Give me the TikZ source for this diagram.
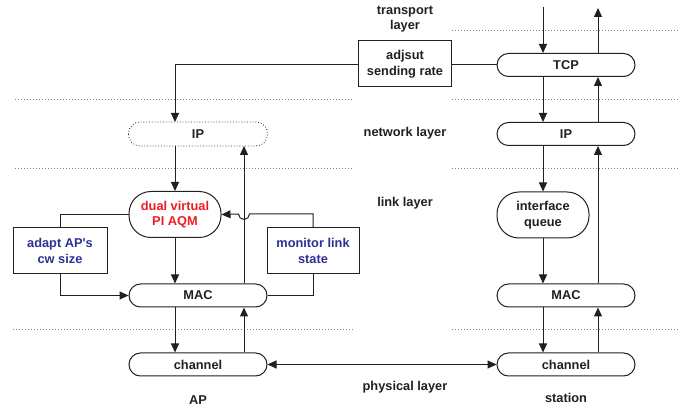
\documentclass[tikz,border=0pt]{standalone}
\usepackage{fontspec}
\setmainfont{Liberation Sans}
\usetikzlibrary{arrows.meta,calc}
\definecolor{ink}{HTML}{231F20}
\definecolor{aqmred}{HTML}{ED1C24}
\definecolor{ctlblue}{HTML}{2E3192}
\begin{document}
\begin{tikzpicture}[x=1pt,y=-1pt,
  every node/.style={font=\fontsize{12.8}{15.5}\selectfont\bfseries, text=ink, align=center, inner sep=0pt},
  pill/.style={draw=ink, line width=1pt, rounded corners=11.5pt, minimum width=138pt, minimum height=23pt},
  fatpill/.style={draw=ink, line width=1pt, rounded corners=22pt, minimum width=92pt, minimum height=46pt},
  ctlbox/.style={draw=ink, line width=1pt, minimum width=93pt, minimum height=46pt},
  conn/.style={draw=ink, line width=1pt},
  arr/.style={conn, -{Triangle[length=9pt,width=8pt]}},
  darr/.style={conn, {Triangle[length=9pt,width=8pt]}-{Triangle[length=9pt,width=8pt]}},
  layerline/.style={draw=gray, line width=0.8pt, dash pattern=on 0.8pt off 2.2pt}
]
\useasboundingbox (0,0) rectangle (696,411);

% layer separators
\draw[layerline] (452,30) -- (680,30);
\draw[layerline] (15,99) -- (353,99);
\draw[layerline] (452,99) -- (680,99);
\draw[layerline] (15,168) -- (353,168);
\draw[layerline] (452,168) -- (680,168);
\draw[layerline] (13,329) -- (353,329);
\draw[layerline] (452,329) -- (680,329);

% layer labels
\node (ltr) at (405,19) {transport\\layer};
\node (lnet) at (405,133) {network layer};
\node (llink) at (405,203) {link layer};
\node (lphy) at (405,387) {physical layer};
\node (lap) at (198,400) {AP};
\node (lsta) at (566,398) {station};

% AP side
\node[pill, draw=none] (ipap) at (198,134) {IP};
\draw[ink, line width=0.8pt, dash pattern=on 0.8pt off 2pt, rounded corners=11.5pt]
  (ipap.south west) rectangle (ipap.north east);
\node[fatpill, text=aqmred] (aqm) at (175,214.5) {dual virtual\\PI AQM};
\node[ctlbox, minimum width=94pt, text=ctlblue] (cw) at (60,251) {adapt AP\textquotesingle s\\cw size};
\node[ctlbox, minimum width=92pt, text=ctlblue] (mon) at (313,251) {monitor link\\state};
\node[pill] (macap) at (198,295.5) {MAC};
\node[pill] (chap) at (198,364.5) {channel};

% station side
\node[pill] (tcp) at (566,65) {TCP};
\node[ctlbox, minimum width=93pt] (adj) at (405,64) {adjsut\\sending rate};
\node[pill] (ipst) at (566,134) {IP};
\node[fatpill] (iq) at (543,215) {interface\\queue};
\node[pill] (macst) at (566,295.5) {MAC};
\node[pill] (chst) at (566,364.5) {channel};

% free ends and columns
\coordinate (tin) at (543,7);
\coordinate (tout) at (598,8);
\coordinate (upap) at (244,0);
\coordinate (upst) at (598,0);
\coordinate (hopr) at (249.5,214);
\coordinate (hopl) at (238.5,214);

% station vertical flow
\draw[arr] (tin) -- (tin |- tcp.north);
\draw[arr] (upst |- tcp.north) -- (tout);
\draw[arr] (iq.north |- tcp.south) -- (iq.north |- ipst.north);
\draw[arr] (upst |- ipst.north) -- (upst |- tcp.south);
\draw[arr] (iq.north |- ipst.south) -- (iq.north);
\draw[arr] (upst |- macst.north) -- (upst |- ipst.south);
\draw[arr] (iq.south) -- (iq.south |- macst.north);
\draw[arr] (iq.south |- macst.south) -- (iq.south |- chst.north);
\draw[arr] (upst |- chst.north) -- (upst |- macst.south);

% adjust sending rate
\draw[conn] (tcp.west) -- (tcp.west -| adj.east);
\draw[arr] (adj.west |- tcp.west) -| (aqm.north |- ipap.north);

% AP vertical flow
\draw[arr] (aqm.north |- ipap.south) -- (aqm.north);
\draw[arr] (aqm.south) -- (aqm.south |- macap.north);
\draw[arr] (upap |- macap.north) -- (upap |- ipap.south);
\draw[arr] (aqm.south |- macap.south) -- (aqm.south |- chap.north);
\draw[arr] (upap |- chap.north) -- (upap |- macap.south);

% control loops
\draw[conn] (aqm.west) -| (cw.north);
\draw[arr] (cw.south) |- (macap.west);
\draw[conn] (macap.east) -| (mon.south);
\draw[conn] (mon.north) |- (hopr) arc[start angle=0, end angle=180, x radius=5.5pt, y radius=-5.5pt];
\draw[arr] (hopl) -- (aqm.east);

% physical link
\draw[darr] (chap.east) -- (chst.west);
\end{tikzpicture}
\end{document}
